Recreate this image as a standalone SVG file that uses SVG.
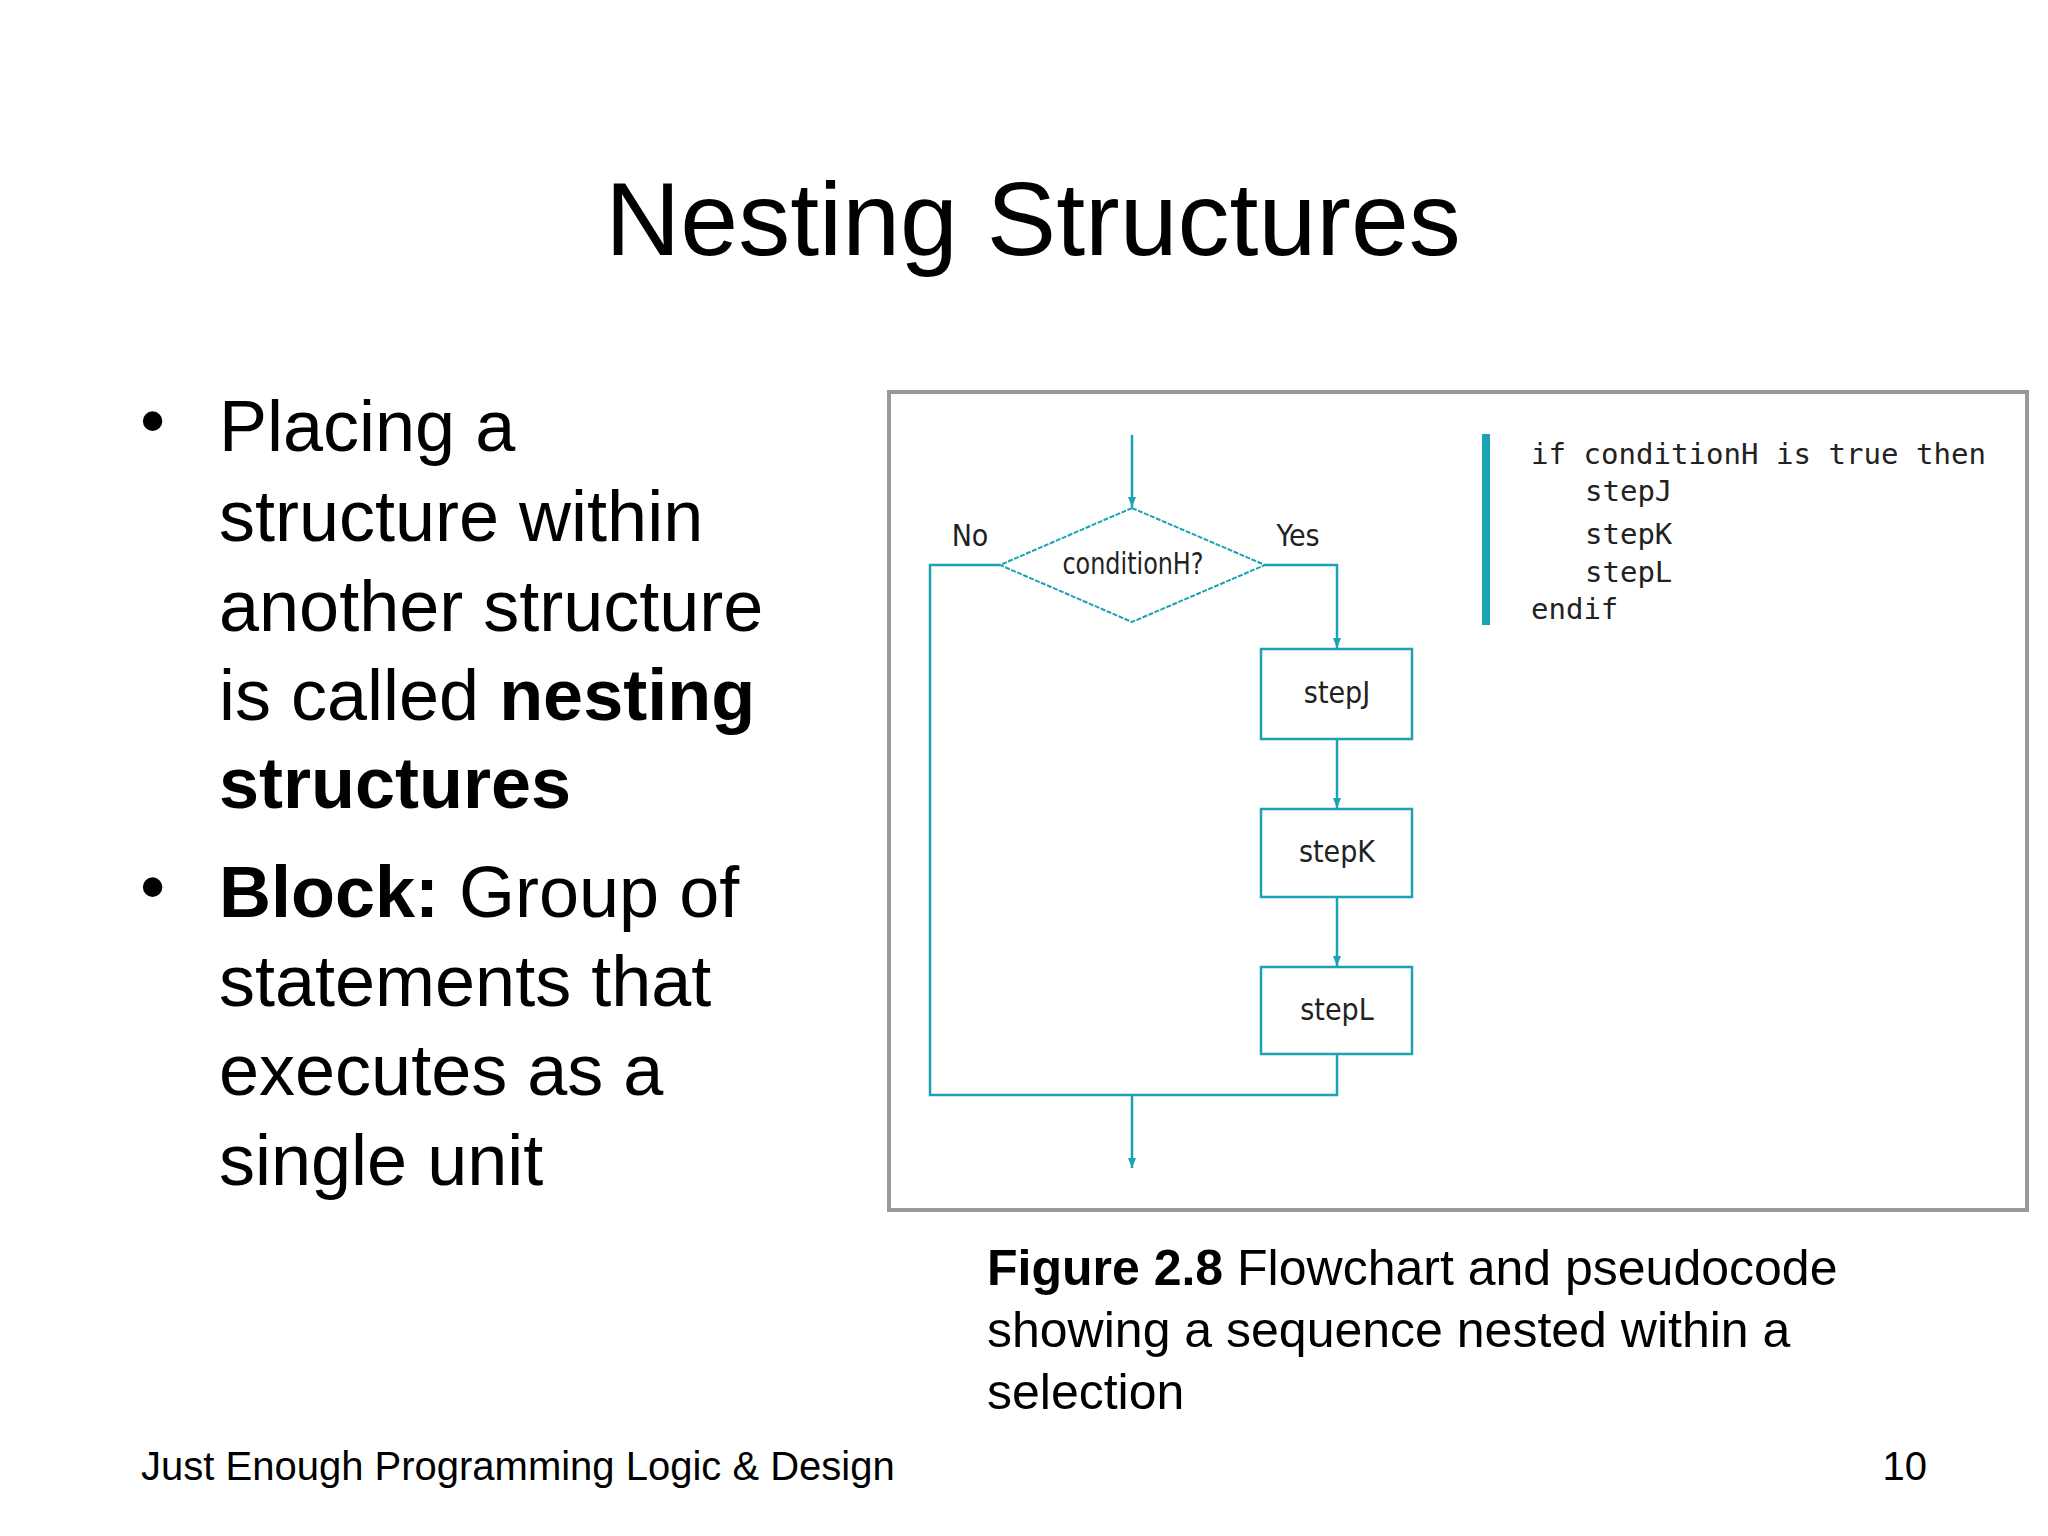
<svg xmlns="http://www.w3.org/2000/svg" width="2048" height="1536" viewBox="0 0 2048 1536">
<defs>
<marker id="ah" viewBox="0 0 10 10" refX="10" refY="5" markerWidth="10" markerHeight="12" markerUnits="userSpaceOnUse" orient="auto"><path d="M0,1 L10,5 L0,9 Z" fill="#1aa3b3"/></marker>
<style>
.t{font-family:"Liberation Sans",Arial,sans-serif;fill:#000}
.fc{font-family:"DejaVu Sans Condensed","DejaVu Sans",sans-serif;font-size:30px;fill:#222;text-anchor:middle}
.ln{fill:none;stroke:#1aa3b3;stroke-width:2.5}
.m{font-family:"DejaVu Sans Mono","Liberation Mono",monospace;font-size:29px;fill:#222}
</style>
</defs>
<rect width="2048" height="1536" fill="#fff"/>
<text class="t" x="1033" y="255" font-size="104" text-anchor="middle" fill="#222">Nesting Structures</text>
<g class="t" font-size="72">
<text x="140" y="445">•</text>
<text x="219" y="451">Placing a</text>
<text x="219" y="541">structure within</text>
<text x="219" y="631">another structure</text>
<text x="219" y="720">is called <tspan font-weight="bold">nesting</tspan></text>
<text x="219" y="808" font-weight="bold">structures</text>
<text x="140" y="911">•</text>
<text x="219" y="917"><tspan font-weight="bold">Block:</tspan> Group of</text>
<text x="219" y="1006">statements that</text>
<text x="219" y="1095">executes as a</text>
<text x="219" y="1185">single unit</text>
</g>
<rect x="889" y="392" width="1138" height="818" fill="#fff" stroke="#999" stroke-width="4"/>
<g id="connectors">
<line class="ln" x1="1132" y1="435" x2="1132" y2="507" marker-end="url(#ah)"/>
<polyline class="ln" points="1265,565 1337,565 1337,648" marker-end="url(#ah)"/>
<line class="ln" x1="1337" y1="739" x2="1337" y2="808" marker-end="url(#ah)"/>
<line class="ln" x1="1337" y1="897" x2="1337" y2="966" marker-end="url(#ah)"/>
<polyline class="ln" points="1000,565 930,565 930,1095 1337,1095 1337,1054"/>
<line class="ln" x1="1132" y1="1095" x2="1132" y2="1168" marker-end="url(#ah)"/>
</g>
<g id="condH"><polygon points="1132,508 1265,565 1132,622 1000,565" fill="#fff" stroke="#1aa3b3" stroke-width="2" stroke-dasharray="5,1.5"/><text class="fc" x="1133" y="574" textLength="141" lengthAdjust="spacingAndGlyphs">conditionH?</text></g>
<text class="fc" x="970" y="546">No</text>
<text class="fc" x="1298" y="546">Yes</text>
<g id="stepJ"><rect x="1261" y="649" width="151" height="90" fill="#fff" stroke="#1aa3b3" stroke-width="2.5"/><text class="fc" x="1337" y="703">stepJ</text></g>
<g id="stepK"><rect x="1261" y="809" width="151" height="88" fill="#fff" stroke="#1aa3b3" stroke-width="2.5"/><text class="fc" x="1337" y="862">stepK</text></g>
<g id="stepL"><rect x="1261" y="967" width="151" height="87" fill="#fff" stroke="#1aa3b3" stroke-width="2.5"/><text class="fc" x="1337" y="1020">stepL</text></g>
<rect x="1482" y="434" width="8" height="191" fill="#1aa3b3"/>
<g class="m">
<text x="1531" y="464" textLength="455" lengthAdjust="spacingAndGlyphs">if conditionH is true then</text>
<text x="1585" y="501">stepJ</text>
<text x="1585" y="544">stepK</text>
<text x="1585" y="582">stepL</text>
<text x="1531" y="619">endif</text>
</g>
<g class="t" font-size="50">
<text x="987" y="1285"><tspan font-weight="bold">Figure 2.8</tspan>  Flowchart and pseudocode</text>
<text x="987" y="1347">showing a sequence nested within a</text>
<text x="987" y="1409">selection</text>
</g>
<text class="t" x="141" y="1480" font-size="40" fill="#222">Just Enough Programming Logic &amp; Design</text>
<text class="t" x="1927" y="1480" font-size="40" fill="#222" text-anchor="end">10</text>
</svg>
